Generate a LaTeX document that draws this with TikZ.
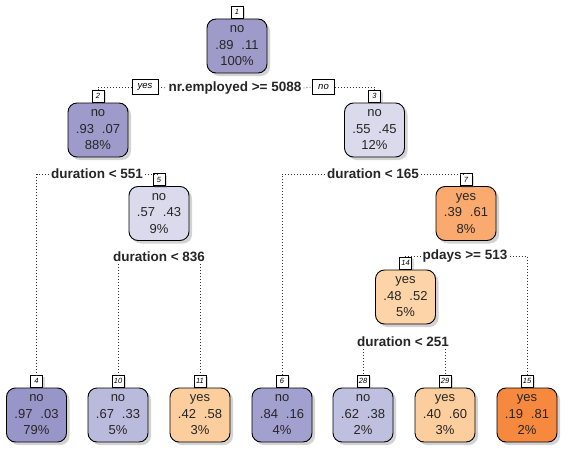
\documentclass[tikz,border=0pt]{standalone}
\usepackage{fontspec}
\setmainfont{Liberation Sans}
\usetikzlibrary{shadows}

\definecolor{noA}{RGB}{152,150,200}
\definecolor{noB}{RGB}{158,155,203}
\definecolor{noC}{RGB}{162,160,206}
\definecolor{noD}{RGB}{186,186,220}
\definecolor{noE}{RGB}{191,191,223}
\definecolor{noF}{RGB}{218,218,236}
\definecolor{yesA}{RGB}{247,137,62}
\definecolor{yesB}{RGB}{250,170,110}
\definecolor{yesC}{RGB}{252,206,158}
\definecolor{yesD}{RGB}{253,212,168}
\newcommand{\probs}[2]{#1\hspace{8pt}#2}

\begin{document}
\begin{tikzpicture}[x=1pt,y=-1pt,
    leaf/.style={draw=black,line width=0.9pt,rounded corners=9pt,
      minimum width=60pt,minimum height=54pt,inner sep=1pt,align=center,
      text=black!85,font=\fontsize{13}{16.5}\selectfont,
      drop shadow={shadow xshift=3pt,shadow yshift=-3pt,opacity=0.35}},
    numbox/.style={draw=black,fill=white,line width=0.7pt,anchor=south,
      minimum width=12pt,minimum height=12pt,inner sep=1pt,
      font=\fontsize{7.5}{8}\itshape,
      drop shadow={shadow xshift=2pt,shadow yshift=-2pt,opacity=0.3}},
    answer/.style={draw=black,fill=white,line width=0.7pt,
      minimum height=15pt,inner xsep=5.5pt,inner ysep=1pt,
      font=\fontsize{9.5}{10}\itshape},
    split/.style={inner sep=2pt,font=\fontsize{13.5}{15}\bfseries,text=black!85},
    branch/.style={line width=0.8pt,dash pattern=on 0.8pt off 2.2pt,black!80}]
  \useasboundingbox (0,0) rectangle (570,452);

  % tree nodes
  \node[leaf,fill=noB] (n1) at (237,46) {no\\\probs{.89}{.11}\\100\%};
  \node[leaf,fill=noB] (n2) at (98,130) {no\\\probs{.93}{.07}\\88\%};
  \node[leaf,fill=noF] (n3) at (374.5,130) {no\\\probs{.55}{.45}\\12\%};
  \node[leaf,fill=noF] (n5) at (159,213.5) {no\\\probs{.57}{.43}\\9\%};
  \node[leaf,fill=yesB] (n7) at (466,213.5) {yes\\\probs{.39}{.61}\\8\%};
  \node[leaf,fill=yesD] (n14) at (405.5,297) {yes\\\probs{.48}{.52}\\5\%};
  \node[leaf,fill=noA] (n4) at (36.5,415) {no\\\probs{.97}{.03}\\79\%};
  \node[leaf,fill=noD] (n10) at (118,415) {no\\\probs{.67}{.33}\\5\%};
  \node[leaf,fill=yesC] (n11) at (200,415) {yes\\\probs{.42}{.58}\\3\%};
  \node[leaf,fill=noC] (n6) at (282,415) {no\\\probs{.84}{.16}\\4\%};
  \node[leaf,fill=noE] (n28) at (363,415) {no\\\probs{.62}{.38}\\2\%};
  \node[leaf,fill=yesC] (n29) at (445,415) {yes\\\probs{.40}{.60}\\3\%};
  \node[leaf,fill=yesA] (n15) at (527,415) {yes\\\probs{.19}{.81}\\2\%};

  % node numbers
  \foreach \k in {1,2,3,4,5,6,7,10,11,14,15,28,29}
    \node[numbox] (l\k) at (n\k.north) {\k};

  % splits
  \node[split] (s1) at (235,88) {nr.employed >= 5088};
  \node[answer] (yes1) at (145,87) {yes};
  \node[answer] (no1) at (323.5,87) {no};
  \node[split] (s2) at (97,174) {duration < 551};
  \node[split] (s5) at (159,257) {duration < 836};
  \node[split] (s3) at (373,174) {duration < 165};
  \node[split] (s7) at (465,256) {pdays >= 513};
  \node[split] (s14) at (403,342) {duration < 251};

  % branches
  \draw[branch] (yes1.east) -- (s1.west);
  \draw[branch] (s1.east) -- (no1.west);
  \draw[branch] (yes1.west) -| (l2.north);
  \draw[branch] (no1.east) -| (l3.north);
  \draw[branch] (s2.west) -| (l4.north);
  \draw[branch] (s2.east) -| (l5.north);
  \draw[branch] (l10.north |- s5.south) -- (l10.north);
  \draw[branch] (l11.north |- s5.south) -- (l11.north);
  \draw[branch] (s3.west) -| (l6.north);
  \draw[branch] (s3.east) -| (l7.north);
  \draw[branch] (s7.west) -| (l14.north);
  \draw[branch] (s7.east) -| (l15.north);
  \draw[branch] (l28.north |- s14.south) -- (l28.north);
  \draw[branch] (l29.north |- s14.south) -- (l29.north);
\end{tikzpicture}
\end{document}
